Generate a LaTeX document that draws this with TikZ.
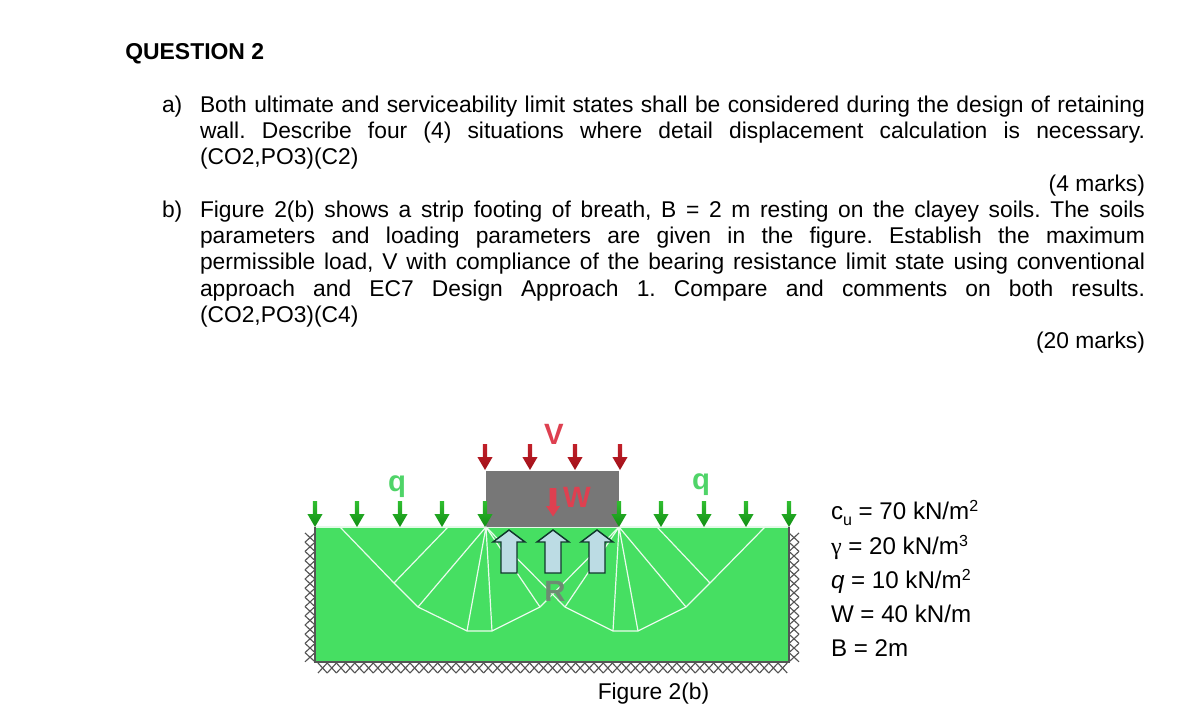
\documentclass[tikz,border=0pt]{standalone}
\usepackage{fontspec}
\setmainfont{Liberation Sans}
\newfontfamily\greekf{Liberation Serif}
\definecolor{soil}{HTML}{46DF62}
\definecolor{foot}{HTML}{777777}
\definecolor{hatchc}{HTML}{555555}
\definecolor{redl}{HTML}{DE4050}
\definecolor{blockf}{HTML}{BCDCE4}
\definecolor{blockd}{HTML}{10382C}
\definecolor{qgreen}{HTML}{4FD468}
\definecolor{gtop}{HTML}{30BE30}
\definecolor{gbot}{HTML}{128F14}
\definecolor{rtop}{HTML}{C2202A}
\definecolor{rbot}{HTML}{A01018}
\newcommand{\supr}[1]{\raisebox{0.32em}{\fontsize{12}{12}\selectfont #1}}
\newcommand{\subr}[1]{\raisebox{-0.28em}{\fontsize{12}{12}\selectfont #1}}
\newcommand{\jl}[1]{\makebox[708.75pt][s]{\frenchspacing #1}}
\tikzset{
  x=0.75pt,y=-0.75pt,
  body/.style={anchor=base west,inner sep=0pt,outer sep=0pt,font=\fontsize{17.1}{20}\selectfont},
  bodyr/.style={anchor=base east,inner sep=0pt,outer sep=0pt,font=\fontsize{17.1}{20}\selectfont},
  param/.style={anchor=base west,inner sep=0pt,outer sep=0pt,font=\fontsize{18.1}{20}\selectfont},
  slip/.style={draw=white!88!soil,line width=0.9pt,line join=round},
  hatch/.style={draw=hatchc,line width=0.85pt},
  boldl/.style={inner sep=0pt,font=\bfseries\fontsize{22}{24}\selectfont},
  block/.style={fill=blockf,draw=blockd,line width=1.1pt,line join=miter},
  pics/downarrow/.style n args={3}{code={
    \shade[top color=#1,bottom color=#2] (-2.2,-#3) -- (2.2,-#3) -- (2.2,-13) -- (7.6,-13) -- (0,0) -- (-7.6,-13) -- (-2.2,-13) -- cycle;
  }}
}
\begin{document}
\begin{tikzpicture}
\useasboundingbox (0,0) rectangle (1186,727);
\fill[white] (0,0) rectangle (1186,727);

% text
\node[anchor=base west,inner sep=0pt,font=\bfseries\fontsize{17.2}{20}\selectfont] (qhead) at (125,60) {QUESTION 2};
\node[body] (al) at (162,113) {a)};
\node[body] (a1) at (200,113) {\jl{Both ultimate and serviceability limit states shall be considered during the design of retaining}};
\node[body] (a2) at (200,139) {\jl{wall. Describe four (4) situations where detail displacement calculation is necessary.}};
\node[body] (a3) at (200,165) {(CO2,PO3)(C2)};
\node[bodyr] (am) at (1145,192) {(4 marks)};
\node[body] (bl) at (162,218) {b)};
\node[body] (b1) at (200,218) {\jl{Figure 2(b) shows a strip footing of breath, B = 2 m resting on the clayey soils. The soils}};
\node[body] (b2) at (200,244) {\jl{parameters and loading parameters are given in the figure. Establish the maximum}};
\node[body] (b3) at (200,270) {\jl{permissible load, V with compliance of the bearing resistance limit state using conventional}};
\node[body] (b4) at (200,297) {\jl{approach and EC7 Design Approach 1. Compare and comments on both results.}};
\node[body] (b5) at (200,323) {(CO2,PO3)(C4)};
\node[bodyr] (bm) at (1145,349) {(20 marks)};

% hatching
\foreach \i in {0,...,13} {
  \pgfmathsetmacro{\ya}{533+9.2*\i}
  \draw[hatch] (305,\ya) -- (315,\ya+9.2) (315,\ya) -- (305,\ya+9.2);
  \draw[hatch] (789,\ya) -- (799,\ya+9.2) (799,\ya) -- (789,\ya+9.2);
}
\foreach \i in {0,...,50} {
  \pgfmathsetmacro{\xa}{318+9.2*\i}
  \draw[hatch] (\xa,663) -- (\xa+9.2,673) (\xa+9.2,663) -- (\xa,673);
}

% soil
\fill[soil] (315,527) rectangle (789,662);
\draw[draw=white!85!soil,line width=0.9pt] (315,527) -- (789,527);
\draw[draw=hatchc,line width=2pt,line join=miter] (315,527) -- (315,662) -- (789,662) -- (789,527);

% footing
\fill[foot] (486,471) rectangle (619,527);

% slip lines
\draw[slip] (340,527) -- (394,583) -- (418,607) -- (467,631) -- (492,631) -- (540,607) -- (619,527);
\draw[slip] (765,527) -- (710,583) -- (686,607) -- (638,631) -- (613,631) -- (565,607) -- (486,527);
\draw[slip] (448,527) -- (394,583);
\draw[slip] (657,527) -- (710,583);
\draw[slip] (486,527) -- (418,607) (486,527) -- (467,631) (486,527) -- (492,631) (486,527) -- (540,607);
\draw[slip] (619,527) -- (565,607) (619,527) -- (613,631) (619,527) -- (638,631) (619,527) -- (686,607);

% surcharge arrows
\foreach \xa in {315,357,400,442,485,619,661,704,746,789}
  \pic at (\xa,527) {downarrow={gtop}{gbot}{26}};

% V arrows
\foreach \xa in {485,530,575,620}
  \pic at (\xa,470) {downarrow={rtop}{rbot}{26}};

% reaction arrows
\foreach \xa in {509,553,597} {
  \draw[block] (\xa,530) -- (\xa+16,542) -- (\xa+8,542) -- (\xa+8,573) -- (\xa-8,573) -- (\xa-8,542) -- (\xa-16,542) -- cycle;
}

% W arrow
\fill[redl] (549.7,488) -- (556.3,488) -- (556.3,506) -- (560,506) -- (553,516.5) -- (546,506) -- (549.7,506) -- cycle;

% labels
\node[boldl,text=redl] (vlab) at (554,434) {V};
\node[boldl,text=redl] (wlab) at (577,497) {W};
\node[boldl,text=foot!80!soil] (rlab) at (555,591) {R};
\node[boldl,text=qgreen] (q1) at (397,487) {q};
\node[boldl,text=qgreen] (q2) at (701,485) {q};

% parameters
\node[param] (p1) at (831,519) {c\subr{u} = 70 kN/m\supr{2}};
\node[param] (p2) at (831,554) {{\greekf γ} = 20 kN/m\supr{3}};
\node[param] (p3) at (831,588) {\textit{q} = 10 kN/m\supr{2}};
\node[param] (p4) at (831,622) {W = 40 kN/m};
\node[param] (p5) at (831,656) {B = 2m};
\node[anchor=base,inner sep=0pt,font=\fontsize{17.1}{20}\selectfont] (figc) at (653.5,699) {Figure 2(b)};
\end{tikzpicture}
\end{document}
